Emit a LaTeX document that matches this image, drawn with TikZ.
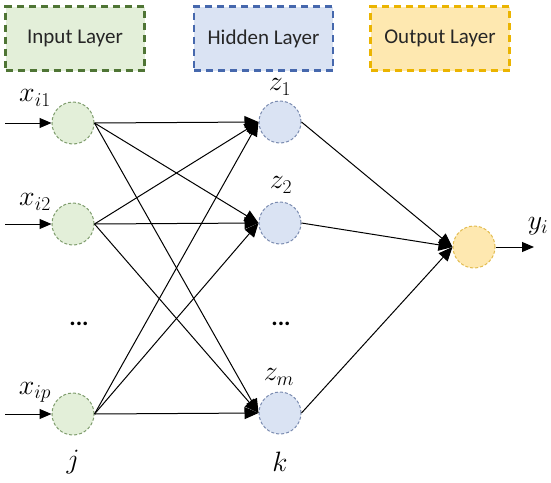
\RequirePackage{fix-cm}
\documentclass[tikz,border=0pt]{standalone}
\usepackage{fontspec}
\setmainfont{Carlito}
\usetikzlibrary{arrows.meta}
\definecolor{gfill}{HTML}{E3EFD9}
\definecolor{gdraw}{HTML}{4F7535}
\definecolor{bfill}{HTML}{DAE3F3}
\definecolor{bdraw}{HTML}{4668AD}
\definecolor{yfill}{HTML}{FEE8B0}
\definecolor{ydraw}{HTML}{EBB400}
\definecolor{gcirc}{HTML}{7E9C6C}
\definecolor{bcirc}{HTML}{7A8BB0}
\definecolor{ycirc}{HTML}{E2BC50}
\tikzset{
  legend/.style={draw, dash pattern=on 7pt off 5pt, line width=2.2pt, minimum width=139pt, minimum height=64pt, inner sep=0, font=\fontsize{21}{24}\selectfont, text=black!85},
  neuron/.style={circle, draw, dash pattern=on 3pt off 2pt, line width=1pt, minimum size=42pt, inner sep=0},
  lab/.style={font=\fontsize{28}{32}\selectfont},
  conn/.style={line width=1pt, -{Triangle[length=14pt,width=12pt]}},
  inarr/.style={line width=1pt, -{Triangle[length=12pt,width=10pt]}}
}
\begin{document}
\begin{tikzpicture}[x=1pt,y=-1pt]
\useasboundingbox (0,0) rectangle (551,482);
% legend boxes
\node[legend, fill=gfill, draw=gdraw] (lin) at (75,38.5) {Input Layer};
\node[legend, fill=bfill, draw=bdraw] (lhid) at (263.5,38.5) {Hidden Layer};
\node[legend, fill=yfill, draw=ydraw] (lout) at (440,38.5) {Output Layer};
% neurons
\node[neuron, fill=gfill, draw=gcirc] (i1) at (73,123) {};
\node[neuron, fill=gfill, draw=gcirc] (i2) at (73,224) {};
\node[neuron, fill=gfill, draw=gcirc] (ip) at (73,414) {};
\node[neuron, fill=bfill, draw=bcirc] (h1) at (280,122) {};
\node[neuron, fill=bfill, draw=bcirc] (h2) at (280,223) {};
\node[neuron, fill=bfill, draw=bcirc] (hm) at (280,413) {};
\node[neuron, fill=yfill, draw=ycirc] (o) at (474,247) {};
% labels
\node[lab] (lx1) at (35,98) {$x_{i1}$};
\node[lab] (lx2) at (35,202) {$x_{i2}$};
\node[lab] (lxp) at (35,392) {$x_{ip}$};
\node[lab] (lz1) at (280,87) {$z_1$};
\node[lab] (lz2) at (281,185) {$z_2$};
\node[lab] (lzm) at (279,377) {$z_m$};
\node[lab] (ly) at (538,226) {$y_i$};
\node[lab] (lj) at (73,462) {$j$};
\node[lab] (lk) at (280,462) {$k$};
\node[font=\fontsize{24}{26}\selectfont\bfseries] (d1) at (79,324) {...};
\node[font=\fontsize{24}{26}\selectfont\bfseries] (d2) at (281,324) {...};
% inputs
\coordinate (s1) at (5,123);
\coordinate (s2) at (5,224);
\coordinate (sp) at (5,414);
\coordinate (e) at (534,247);
\draw[inarr] (s1) -- (i1.west);
\draw[inarr] (s2) -- (i2.west);
\draw[inarr] (sp) -- (ip.west);
\draw[inarr] (o.east) -- (e);
% connections
\foreach \a in {i1,i2,ip}{
  \foreach \b in {h1,h2,hm}{
    \draw[conn] (\a.east) -- (\b.west);
  }
}
\foreach \b in {h1,h2,hm}{
  \draw[conn] (\b.east) -- (o.west);
}
\end{tikzpicture}
\end{document}
